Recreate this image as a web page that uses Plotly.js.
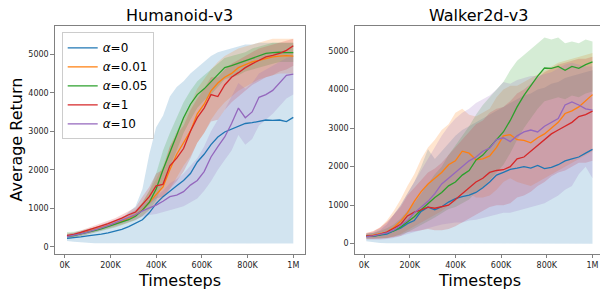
<!DOCTYPE html>
<html>
<head>
<meta charset="utf-8">
<script src="https://cdn.plot.ly/plotly-3.0.1.min.js"></script>
<style>
html,body{margin:0;padding:0;overflow:hidden;background:#fff;width:600px;height:291px}
#chart{width:610px;height:291px}
</style>
</head>
<body>
<div id="chart"></div>
<script>
// Timesteps (x values)
const steps = [10000,40000,70000,100000,130000,160000,190000,220000,250000,280000,310000,340000,370000,400000,430000,460000,490000,520000,550000,580000,610000,640000,670000,700000,730000,760000,790000,820000,850000,880000,910000,940000,970000,1000000];

const seriesLabels = ['<i>α</i>=0','<i>α</i>=0.01','<i>α</i>=0.05','<i>α</i>=1','<i>α</i>=10'];
const envTitles = ['Humanoid-v3','Walker2d-v3'];
const xTitle = 'Timesteps';
const yTitle = 'Average Return';
const xTickVals = [0,200000,400000,600000,800000,1000000];
const xTickText = ['0K','200K','400K','600K','800K','1M'];
const yTickVals = [0,1000,2000,3000,4000,5000];

// ---------- Humanoid-v3 ----------
const humMean0 = [215,230,255,280,300,325,360,400,450,520,600,700,880,1120,1300,1450,1580,1720,1900,2200,2400,2650,2850,2980,3060,3120,3200,3220,3260,3290,3280,3290,3250,3360];
const humLo0   = [150,130,110,100,90,85,80,80,80,80,80,80,80,80,80,80,80,80,80,80,80,80,80,80,80,80,80,80,80,80,80,80,80,80];
const humHi0   = [330,350,380,420,460,510,560,620,720,900,1050,1500,2400,3100,3400,3900,4150,4300,4500,4650,4800,4950,5050,5100,5150,5200,5250,5250,5300,5300,5300,5300,5300,5300];

const humMean1 = [280,300,340,390,440,490,540,600,660,730,820,950,1150,1330,1550,2000,2400,2700,3000,3450,3700,4050,4250,4400,4500,4650,4720,4800,4840,4890,4930,4950,4960,4950];
const humLo1   = [230,250,285,330,380,425,470,520,570,630,700,800,950,1100,1250,1500,1800,2100,2350,2700,2950,3300,3550,3750,3900,4050,4150,4250,4350,4400,4450,4500,4500,4500];
const humHi1   = [330,350,395,450,500,555,610,680,750,840,950,1150,1450,1750,2100,2600,3000,3350,3700,4100,4350,4600,4800,4950,5050,5150,5200,5250,5300,5350,5400,5400,5400,5400];

const humMean2 = [270,290,330,380,420,460,520,570,630,700,790,950,1150,1500,2000,2450,2900,3350,3700,3950,4100,4280,4450,4650,4700,4760,4820,4890,4950,5020,5040,5050,5040,5040];
const humLo2   = [200,230,270,320,360,400,450,500,560,620,690,800,950,1200,1600,2050,2500,2950,3300,3600,3800,3950,4150,4350,4400,4450,4550,4600,4650,4700,4750,4800,4800,4800];
const humHi2   = [380,390,420,460,500,540,600,650,720,800,920,1150,1450,1900,2500,2950,3350,3750,4050,4300,4450,4600,4750,4900,4950,5000,5050,5150,5200,5250,5300,5300,5300,5300];

const humMean3 = [290,320,370,420,480,540,600,660,740,830,900,1100,1300,1580,1620,2100,2300,2550,3000,3350,3600,3950,3900,4200,4400,4520,4650,4750,4850,4930,4970,5020,5100,5220];
const humLo3   = [240,270,320,370,420,480,540,590,650,730,800,950,1100,1250,1300,1500,1700,1950,2300,2700,2950,3250,3300,3550,3750,3900,4050,4200,4300,4400,4450,4550,4600,4700];
const humHi3   = [340,370,420,480,540,600,670,740,830,930,1020,1300,1550,1900,2000,2600,2900,3150,3550,3850,4100,4400,4400,4600,4750,4850,4950,5050,5150,5200,5250,5300,5350,5400];

const humMean4 = [260,290,330,380,430,490,550,620,690,750,830,930,1000,1080,1180,1300,1340,1430,1600,1720,1950,2330,2600,2850,3200,3600,3350,3500,3880,3950,4060,4250,4450,4480];
const humLo4   = [200,230,270,320,370,420,480,540,600,650,700,780,820,850,900,950,1000,1050,1150,1250,1450,1700,2000,2250,2500,2900,2650,2800,3150,3300,3450,3650,3850,3950];
const humHi4   = [320,350,400,450,500,570,630,700,780,860,950,1100,1200,1300,1450,1650,1750,1900,2100,2300,2600,3000,3300,3550,3900,4250,4100,4250,4500,4600,4700,4800,4900,4950];

// ---------- Walker2d-v3 ----------
const walMean0 = [200,190,220,250,330,400,520,600,840,950,880,960,1080,1170,1220,1260,1330,1450,1600,1780,1850,1930,1960,2000,1960,2030,1950,1980,2050,2150,2200,2250,2350,2450];
const walLo0   = [60,40,20,10,5,0,0,0,0,0,0,0,0,0,0,0,0,0,0,0,0,0,0,0,0,0,0,0,0,0,0,0,0,0];
const walHi0   = [260,280,350,500,750,1000,1300,1600,2000,2450,2200,2400,2600,2800,2950,3050,3150,3250,3350,3450,3550,3650,3750,3850,3900,4000,4050,4150,4200,4300,4350,4400,4450,4500];

const walMean1 = [200,220,260,300,420,580,800,1100,1350,1550,1700,1850,2050,2150,2400,2350,2180,2200,2280,2500,2800,2830,2700,2680,2620,2750,2850,3000,3150,3380,3450,3550,3700,3870];
const walLo1   = [130,130,140,150,180,250,350,450,550,650,750,850,1000,1100,1300,1300,1200,1200,1250,1400,1600,1700,1600,1550,1500,1600,1700,1800,1900,2000,2100,2200,2300,2400];
const walHi1   = [280,320,420,600,850,1150,1500,1800,2200,2500,2700,2950,3100,3400,3500,3350,3300,3400,3500,3800,4000,4100,4100,4200,4300,4400,4500,4600,4700,4750,4800,4850,4900,4950];

const walMean2 = [190,200,230,270,330,430,560,700,880,1050,1200,1330,1500,1600,1780,1900,2170,2300,2500,2700,2900,3200,3550,3850,4100,4350,4560,4550,4600,4500,4600,4550,4650,4720];
const walLo2   = [130,130,140,150,180,230,300,380,480,580,680,780,900,950,1050,1150,1350,1450,1650,1850,2050,2350,2700,3000,3250,3500,3700,3750,3800,3750,3850,3800,3900,3950];
const walHi2   = [260,280,330,400,500,650,850,1050,1300,1550,1800,2000,2300,2550,2800,3050,3350,3600,3800,4000,4200,4500,4750,4900,5050,5200,5350,5300,5350,5200,5250,5200,5300,5250];

const walMean3 = [200,210,250,300,400,500,720,820,880,950,920,960,1000,1150,1300,1450,1600,1700,1850,1900,1920,2000,2200,2250,2400,2550,2700,2850,2950,3050,3150,3300,3350,3440];
const walLo3   = [130,120,130,140,170,200,300,320,350,380,350,350,380,450,550,650,750,850,950,1000,1000,1050,1200,1250,1350,1500,1600,1750,1850,1900,2000,2100,2100,2150];
const walHi3   = [280,320,420,560,750,950,1250,1450,1650,1850,1950,2100,2300,2500,2700,2900,3100,3200,3400,3500,3550,3700,3900,4000,4150,4300,4450,4550,4650,4700,4750,4800,4800,4850];

const walMean4 = [180,200,240,280,350,480,600,800,950,1100,1300,1550,1700,1850,2000,2150,2250,2400,2480,2700,2750,2650,2800,2900,2950,2900,3050,3150,3250,3600,3680,3600,3500,3470];
const walLo4   = [100,100,100,120,150,200,250,300,350,400,450,500,520,550,550,600,620,650,700,750,800,800,850,900,950,1000,1050,1150,1250,1400,1500,1800,2000,1700];
const walHi4   = [260,300,400,550,750,1000,1300,1600,1900,2200,2500,2800,3050,3250,3400,3500,3650,3750,3850,4000,4200,4150,4250,4300,4350,4350,4400,4450,4550,4650,4700,4650,4600,4600];

const envs = [
  {means:[humMean0,humMean1,humMean2,humMean3,humMean4], los:[humLo0,humLo1,humLo2,humLo3,humLo4], his:[humHi0,humHi1,humHi2,humHi3,humHi4], xa:'x', ya:'y'},
  {means:[walMean0,walMean1,walMean2,walMean3,walMean4], los:[walLo0,walLo1,walLo2,walLo3,walLo4], his:[walHi0,walHi1,walHi2,walHi3,walHi4], xa:'x2', ya:'y2'}
];

const colors = ['#1f77b4','#ff7f0e','#2ca02c','#d62728','#9467bd'];
const fillColors = ['rgba(31,119,180,0.2)','rgba(255,127,14,0.2)','rgba(44,160,44,0.2)','rgba(214,39,40,0.2)','rgba(148,103,189,0.2)'];

const traces = [];
const revSteps = steps.slice().reverse();
envs.forEach((env, e) => {
  for (let i = 0; i < 5; i++) {
    traces.push({
      type:'scatter', mode:'lines', xaxis:env.xa, yaxis:env.ya,
      x: steps.concat(revSteps),
      y: env.his[i].concat(env.los[i].slice().reverse()),
      fill:'toself', fillcolor: fillColors[i],
      line:{width:0, color: fillColors[i]},
      hoverinfo:'skip', showlegend:false
    });
  }
});
envs.forEach((env, e) => {
  for (let i = 0; i < 5; i++) {
    traces.push({
      type:'scatter', mode:'lines', xaxis:env.xa, yaxis:env.ya,
      x: steps, y: env.means[i],
      name: seriesLabels[i],
      line:{color: colors[i], width:1.3},
      showlegend: e === 0
    });
  }
});

const W = 610, H = 291;
const yDom = [1 - 253.7/H, 1 - 26/H];
const spine = '#808080';
const tickFont = {family:'DejaVu Sans', size:8, color:'#262626'};
const titleFont = {family:'DejaVu Sans', size:16, color:'#000'};

function xAxis(dom, range, anchor) {
  return {
    domain: dom, range: range, anchor: anchor,
    tickmode:'array', tickvals: xTickVals, ticktext: xTickText,
    ticks:'outside', ticklen:3.5, tickwidth:1, tickcolor: spine,
    showline:true, mirror:true, linecolor: spine, linewidth:1.2,
    showgrid:false, zeroline:false, tickfont: tickFont
  };
}
function yAxis(range, anchor) {
  return {
    domain: yDom, range: range, anchor: anchor,
    tickmode:'array', tickvals: yTickVals,
    ticks:'outside', ticklen:3.5, tickwidth:1, tickcolor: spine,
    showline:true, mirror:true, linecolor: spine, linewidth:1.2,
    showgrid:false, zeroline:false, tickfont: tickFont
  };
}
function txt(text, xpx, ypx, angle) {
  return {text: text, xref:'paper', yref:'paper', x: xpx/W, y: 1 - ypx/H,
          xanchor:'center', yanchor:'middle', showarrow:false, textangle: angle || 0,
          font: titleFont};
}

const layout = {
  width: W, height: H,
  margin:{l:0, r:0, t:0, b:0},
  paper_bgcolor:'#fff', plot_bgcolor:'#fff',
  font:{family:'DejaVu Sans', color:'#000'},
  showlegend:true,
  legend:{
    x: 61.7/W, y: 1 - 32.3/H, xanchor:'left', yanchor:'top',
    bgcolor:'rgba(255,255,255,0.8)', bordercolor:'#cccccc', borderwidth:1,
    font:{family:'DejaVu Sans', size:12, color:'#000'}
  },
  xaxis: xAxis([55/W, 304.7/W], [-42400, 1049900], 'y'),
  yaxis: yAxis([-182, 5732], 'x'),
  xaxis2: xAxis([355/W, 603.6/W], [-39400, 1048600], 'y2'),
  yaxis2: yAxis([-260, 5651], 'x2'),
  annotations: [
    txt(envTitles[0], 179.85, 15),
    txt(envTitles[1], 479.3, 15),
    txt(xTitle, 179.85, 280),
    txt(xTitle, 479.3, 280),
    txt(yTitle, 15.5, 140, -90)
  ]
};

Plotly.newPlot('chart', traces, layout, {staticPlot:true, displayModeBar:false});
</script>
</body>
</html>
